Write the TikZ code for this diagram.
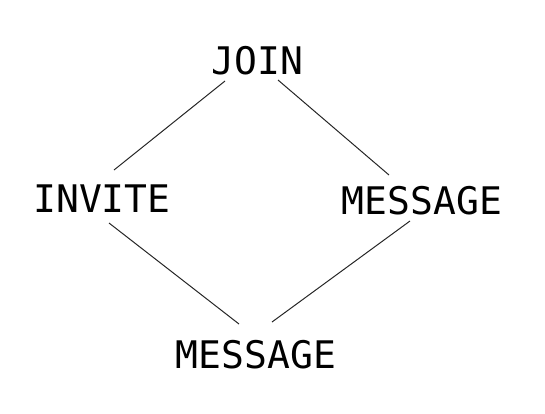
\documentclass[tikz,border=0pt]{standalone}
\usepackage{fontspec}
\newfontfamily\labelfont{DejaVu Sans Mono}
\begin{document}
\begin{tikzpicture}[x=1pt,y=-1pt,
  lbl/.style={inner sep=0pt, anchor=base, font=\labelfont\fontsize{38}{38}\selectfont},
  edge/.style={draw=black!85, line width=1pt}]
\useasboundingbox (0,0) rectangle (545,413);
\node[lbl] (join) at (257.5,74) {JOIN};
\node[lbl] (invite) at (102,212) {INVITE};
\node[lbl] (msgr) at (422,214) {MESSAGE};
\node[lbl] (msgb) at (256,368) {MESSAGE};
\coordinate (j1) at (225,81);
\coordinate (i1) at (114,170);
\coordinate (j2) at (278,80);
\coordinate (m1) at (389,175);
\coordinate (i2) at (109,223);
\coordinate (b1) at (239,324);
\coordinate (m2) at (410,221);
\coordinate (b2) at (272,322);
\draw[edge] (j1) -- (i1);
\draw[edge] (j2) -- (m1);
\draw[edge] (i2) -- (b1);
\draw[edge] (m2) -- (b2);
\end{tikzpicture}
\end{document}
